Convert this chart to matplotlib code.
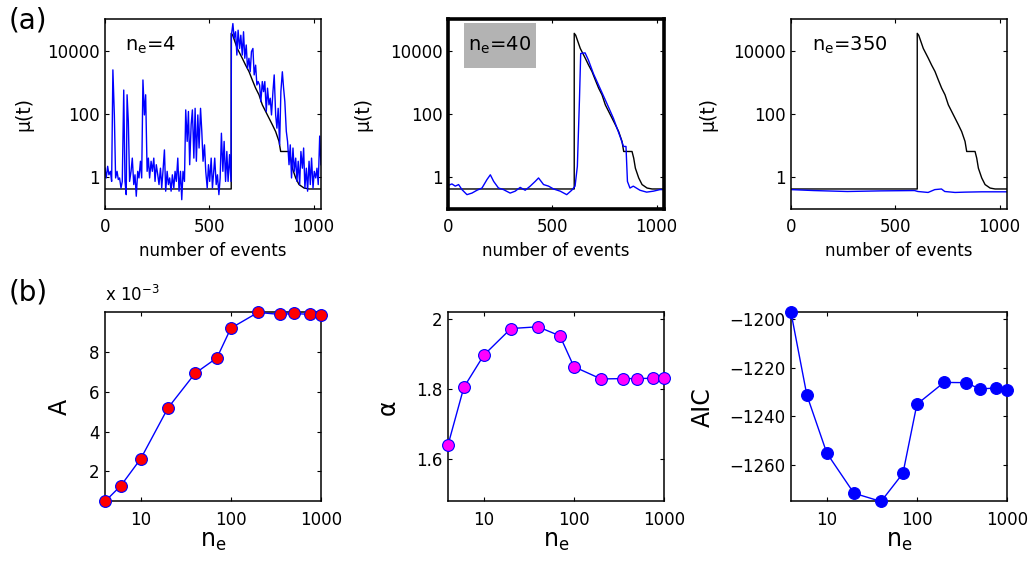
import numpy as np
import matplotlib
matplotlib.use("Agg")
import matplotlib.pyplot as plt
from matplotlib.patches import Rectangle
from matplotlib.ticker import NullLocator

# ---- top row: mu(t) vs number of events (values stored as log10 mu) ----
# true intensity (black), same in the three panels
true_x = [0, 605, 605, 612, 634, 658, 674, 690, 706, 722, 738, 754, 770, 786,
          802, 818, 834, 842, 882, 890, 898, 914, 930, 954, 978, 1035]
true_log = [-0.38, -0.38, 4.56, 4.50, 4.08, 3.77, 3.55, 3.35, 3.08, 2.82, 2.61, 2.29, 2.08, 1.87,
            1.66, 1.44, 1.13, 0.81, 0.81, 0.60, 0.28, -0.03, -0.24, -0.35, -0.38, -0.38]

# estimate with n_e = 4
est4_x = [0, 6, 13, 19, 26, 32, 38, 45, 51, 58,
          64, 70, 77, 83, 90, 96, 102, 106, 112, 118,
          125, 131, 138, 144, 150, 157, 163, 170, 176, 182,
          189, 195, 202, 208, 214, 221, 227, 234, 240, 246,
          253, 259, 266, 272, 278, 285, 291, 298, 304, 310,
          317, 323, 330, 336, 342, 349, 355, 362, 368, 374,
          381, 387, 394, 400, 406, 413, 419, 426, 432, 438,
          445, 451, 458, 464, 470, 477, 483, 490, 496, 502,
          509, 515, 526, 533, 539, 546, 552, 558, 565, 571,
          578, 584, 590, 597, 604, 606, 613, 619, 626, 632,
          638, 645, 651, 658, 664, 670, 677, 683, 690, 696,
          702, 709, 715, 722, 728, 734, 741, 747, 754, 760,
          766, 773, 779, 786, 792, 798, 805, 811, 818, 824,
          830, 837, 843, 850, 856, 862, 869, 875, 882, 888,
          894, 901, 907, 914, 920, 926, 933, 939, 946, 952,
          958, 965, 971, 978, 984, 990, 997, 1003, 1010, 1016,
          1022, 1029, 1035]
est4_log = [0.28, -0.03, 0.34, 0.07, 0.18, -0.14, 3.40, 1.97, -0.03, 0.18,
            -0.08, -0.03, -0.35, -0.14, 2.76, -0.14, -0.56, 2.61, 1.76, -0.14,
            0.18, 0.60, -0.24, 0.07, -0.61, 0.18, -0.03, 0.50, -0.03, 3.08,
            1.97, 2.61, 0.18, 0.60, -0.03, 0.50, 0.18, 0.60, -0.14, 0.39,
            0.07, -0.24, 0.28, -0.35, 0.18, 0.86, -0.45, 0.18, -0.24, -0.03,
            -0.45, 0.07, -0.35, 0.18, -0.14, 0.60, -0.45, 0.18, -0.72, 0.18,
            -0.14, 2.13, 1.13, 2.08, 0.39, 1.66, 2.13, 0.60, 2.18, 0.50,
            1.97, 0.92, 2.18, 1.45, 0.50, 1.02, 0.18, -0.35, 0.39, -0.14,
            0.60, -0.35, 0.60, -0.24, 0.07, -0.56, -0.03, 1.39, 0.18, 1.13,
            -0.14, 0.81, -0.14, 0.71, -0.14, 4.50, 4.87, 4.40, 4.61, 3.87,
            4.66, 4.08, 4.50, 3.87, 4.61, 3.77, 4.19, 3.45, 3.77, 3.34,
            3.98, 4.08, 3.24, 3.55, 2.92, 3.03, 2.92, 2.39, 3.03, 2.71,
            3.03, 2.08, 2.82, 2.29, 2.50, 1.97, 2.71, 3.24, 1.97, 1.55,
            2.18, 1.02, 2.71, 3.34, 2.82, 2.39, 1.45, 1.13, 0.39, 1.02,
            -0.03, 0.92, 0.18, 0.60, -0.14, 0.50, -0.24, 0.81, 0.28, 0.92,
            -0.35, 0.28, -0.45, 0.50, -0.24, 0.60, -0.35, 0.18, -0.03, 0.28,
            -0.24, 1.30, 0.39]

# estimate with n_e = 40
est40_x = [0, 19, 35, 51, 67, 91, 115, 139, 163, 187, 203, 219, 242, 266, 298, 322,
           346, 370, 394, 418, 434, 458, 482, 506, 538, 569, 593, 609, 620, 630, 636,
           657, 673, 697, 729, 761, 793, 825, 841, 853, 860, 872, 888, 920, 952, 984,
           1016, 1035]
est40_log = [-0.27, -0.22, -0.29, -0.24, -0.40, -0.56, -0.51, -0.42, -0.35, -0.08, 0.07,
             -0.14, -0.35, -0.40, -0.51, -0.45, -0.33, -0.42, -0.29, -0.14, -0.03, -0.24,
             -0.29, -0.38, -0.45, -0.56, -0.42, -0.29, 0.34, 2.44, 3.92, 3.94, 3.71, 3.28,
             2.81, 2.34, 1.86, 1.28, 0.97, 0.97, -0.14, -0.35, -0.29, -0.42, -0.48, -0.45,
             -0.40, -0.40]

# estimate with n_e = 350
est350_x = [0, 109, 270, 431, 592, 608, 657, 689, 721, 737, 786, 834, 914, 1035]
est350_log = [-0.40, -0.43, -0.46, -0.44, -0.43, -0.46, -0.49, -0.40, -0.38, -0.46,
              -0.49, -0.48, -0.47, -0.47]

# ---- bottom row: fit parameters vs n_e ----
ne = [4, 6, 10, 20, 40, 70, 100, 200, 350, 500, 750, 1000]
A_vals = [0.49, 1.28, 2.64, 5.18, 6.92, 7.70, 9.19, 9.98, 9.88, 9.93, 9.88, 9.85]  # x 1e-3
alpha_vals = [1.641, 1.806, 1.898, 1.974, 1.979, 1.953, 1.865, 1.830, 1.831, 1.831, 1.832, 1.832]
aic_vals = [-1197.3, -1231.3, -1255.2, -1271.7, -1275.1, -1263.5, -1235.1, -1226.1,
            -1226.2, -1228.8, -1228.4, -1229.4]

fig = plt.figure(figsize=(10.31, 5.66), dpi=100)

lefts = [0.1018, 0.4345, 0.7672]
w, h = 0.2095, 0.334
top_axes = [fig.add_axes([l, 0.6316, w, h]) for l in lefts]
bot_axes = [fig.add_axes([l, 0.114, w, h]) for l in lefts]


def style(ax, lw=1.1):
    ax.tick_params(direction='in', top=True, right=True, length=3, width=0.8,
                   labelsize=12, pad=4)
    ax.tick_params(axis='x', pad=7)
    for s in ax.spines.values():
        s.set_linewidth(lw)


tags = [r'$\mathregular{n_e}$=4', r'$\mathregular{n_e}$=40', r'$\mathregular{n_e}$=350']
blues = [(est4_x, est4_log), (est40_x, est40_log), (est350_x, est350_log)]
mu_lab_x = [-0.333, -0.352, -0.341]
for i, ax in enumerate(top_axes):
    bx, by = blues[i]
    ax.plot(true_x, 10 ** np.array(true_log), color='k', lw=1.0)
    ax.plot(bx, 10 ** np.array(by), color='#0000ff', lw=1.0)
    ax.set_yscale('log')
    ax.set_xlim(0, 1035)
    ax.set_ylim(0.1, 1e5)
    ax.set_yticks([1, 100, 10000], ['1', '100', '10000'])
    ax.yaxis.set_minor_locator(NullLocator())
    ax.set_xticks([0, 500, 1000], ['0', '500', '1000'])
    ax.set_xlabel('number of events', fontsize=12, labelpad=4)
    ax.set_ylabel('μ(t)', fontsize=13.5)
    ax.yaxis.set_label_coords(mu_lab_x[i], 0.5)
    style(ax, 2.6 if i == 1 else 1.1)
    if i == 1:
        ax.add_patch(Rectangle((0.074, 0.742), 0.333, 0.237, transform=ax.transAxes,
                               facecolor='#b3b3b3', edgecolor='none', zorder=1))
    ax.text(0.095, 0.835, tags[i], transform=ax.transAxes, fontsize=14,
            va='baseline', ha='left', zorder=3)

markers = [dict(mfc='#ff0000', mec='#0000ff'),
           dict(mfc='#ff00ff', mec='#0000ff'),
           dict(mfc='#0000ff', mec='#0000ff')]
yvals = [A_vals, alpha_vals, aic_vals]
ylabels = ['A', 'α', 'AIC']
lab_x = [-0.153, -0.222, -0.353]
for i, ax in enumerate(bot_axes):
    ax.plot(ne, yvals[i], '-o', color='#0000ff', lw=1.0, ms=8.5, mew=0.8,
            clip_on=False, zorder=3, **markers[i])
    ax.set_xscale('log')
    ax.set_xlim(4, 1000)
    ax.set_xticks([10, 100, 1000], ['10', '100', '1000'])
    ax.xaxis.set_minor_locator(NullLocator())
    ax.set_xlabel(r'$\mathregular{n_e}$', fontsize=17, labelpad=0)
    ax.set_ylabel(ylabels[i], fontsize=17)
    ax.yaxis.set_label_coords(lab_x[i], 0.5)
    style(ax)

bot_axes[0].set_ylim(min(A_vals), max(A_vals))
bot_axes[0].set_yticks([2, 4, 6, 8], ['2', '4', '6', '8'])
bot_axes[0].text(0.0, 1.058, r'x 10$^{\mathregular{-3}}$', transform=bot_axes[0].transAxes,
                 fontsize=12, va='baseline', ha='left')
bot_axes[1].set_ylim(1.48, 2.02)
bot_axes[1].set_yticks([1.6, 1.8, 2.0], ['1.6', '1.8', '2'])
bot_axes[2].set_ylim(min(aic_vals), max(aic_vals))
bot_axes[2].set_yticks([-1260, -1240, -1220, -1200], ['−1260', '−1240', '−1220', '−1200'])

fig.text(0.008, 0.988, '(a)', fontsize=20, va='top', ha='left')
fig.text(0.008, 0.508, '(b)', fontsize=20, va='top', ha='left')

fig.savefig('out.png', dpi=100)
